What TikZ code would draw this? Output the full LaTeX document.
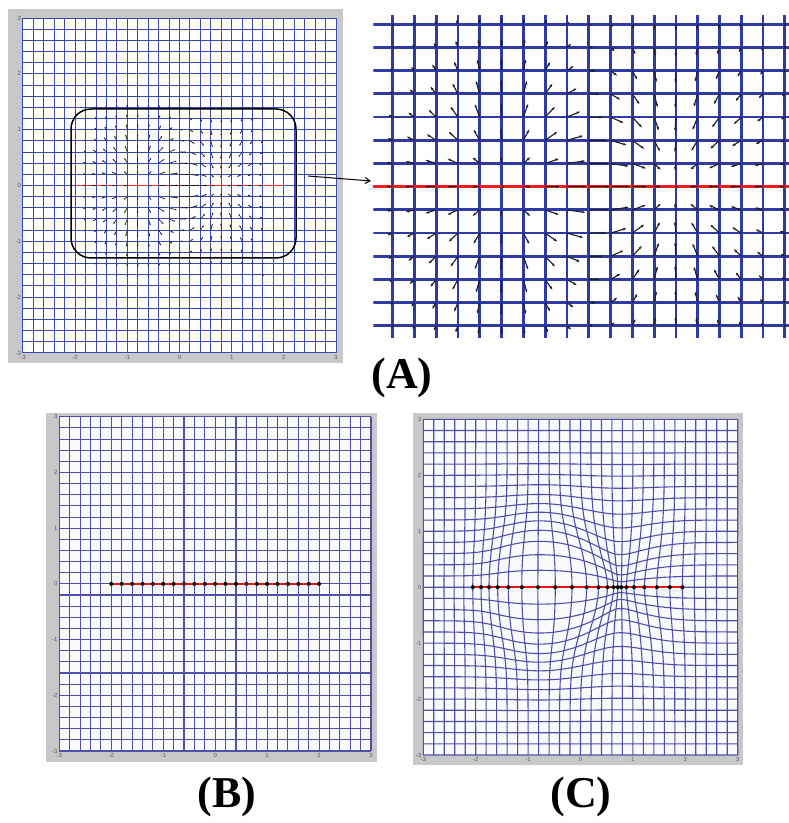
\documentclass[tikz,border=0pt]{standalone}
\usepackage{fontspec}
\setmainfont{Liberation Serif}
\newfontfamily\tickfont{Liberation Sans}
\usetikzlibrary{arrows.meta}
\definecolor{framegray}{RGB}{200,200,200}
\definecolor{plotwhite}{RGB}{250,250,252}
\definecolor{gridLc}{RGB}{62,72,178}
\definecolor{gridRc}{RGB}{48,58,165}
\definecolor{gridBc}{RGB}{80,80,172}
\definecolor{redLc}{RGB}{240,40,40}
\definecolor{redRc}{RGB}{240,30,30}
\definecolor{redBc}{RGB}{235,20,20}
\definecolor{quivc}{RGB}{30,30,30}
\definecolor{tickc}{RGB}{90,90,90}
\tikzset{
  declare function={
    ga(\x,\y)=exp(-((\x+0.74)*(\x+0.74))/0.63-(\y*\y)/0.95);
    gb(\x,\y)=exp(-((\x-0.73)*(\x-0.73))/0.63-(\y*\y)/0.95);
    dX(\x,\y)=0.55*(\x+0.74)*ga(\x,\y)-0.55*(\x-0.73)*gb(\x,\y);
    dY(\x,\y)=0.55*\y*ga(\x,\y)-0.55*\y*gb(\x,\y);
  },
  frame/.style={fill=framegray, draw=none},
  plotbg/.style={fill=plotwhite, draw=none},
  gridL/.style={draw=gridLc, line width=1pt},
  gridR/.style={draw=gridRc, line width=2.8pt},
  gridB/.style={draw=gridBc, line width=1.1pt},
  redL/.style={draw=redLc, line width=1pt},
  redR/.style={draw=redRc, line width=2.6pt},
  redB/.style={draw=redBc, line width=1.6pt},
  dotB/.style={fill=black},
  quivL/.style={draw=quivc, fill=quivc, line width=0.6pt, -{Stealth[length=1.8pt,width=1.5pt]}},
  quivR/.style={draw=quivc, fill=quivc, line width=1.1pt, -{Stealth[length=3.4pt,width=2.6pt]}},
  tick/.style={font=\tickfont\fontsize{6}{6}\selectfont, text=tickc, inner sep=0pt},
  roibox/.style={draw=black, line width=1.5pt, rounded corners=20pt, minimum width=225pt, minimum height=149pt, inner sep=0pt},
  panellabel/.style={font=\fontsize{44}{44}\selectfont\bfseries, inner sep=0pt},
}
\newcommand\myticks{%
  \foreach \v/\s in {3/3,2/2,1/1,0/0,-1/-1,-2/-2,-3/-3}{
    \node[tick, anchor=east] at ([xshift=-1.8pt]-3,\v) {\s};
    \node[tick, anchor=north] at ([yshift=-2.2pt]\v,-3) {\s};
  }%
}
\begin{document}
\begin{tikzpicture}[x=1pt,y=1pt]
\useasboundingbox (0,0) rectangle (789,823);
\fill[white] (0,0) rectangle (789,823);

% ---------------- Panel A left ----------------
\fill[frame] (8,{823-9}) rectangle (343,{823-363});
\begin{scope}[shift={(179.5,{823-185.5})}, x=52.17pt, y=55.83pt]
  \fill[white] (-3,-3) rectangle (3,3);
  \draw[gridL] \foreach \i in {0,...,30}{
    ({-3+0.2*\i},-3) -- ({-3+0.2*\i},3) (-3,{-3+0.2*\i}) -- (3,{-3+0.2*\i}) };
  \draw[redL] (-2,0) -- (2,0);
  \foreach \i in {6,...,23}{
    \foreach \j in {7,...,22}{
      \pgfmathsetmacro\xx{-3+0.2*\i}
      \pgfmathsetmacro\yy{-3+0.2*\j}
      \pgfmathsetmacro\ux{dX(\xx,\yy)}
      \pgfmathsetmacro\uy{dY(\xx,\yy)}
      \pgfmathsetmacro\mgn{sqrt(\ux*\ux+\uy*\uy)}
      \ifdim\mgn pt>0.015pt
        \draw[quivL] (\xx,\yy) -- ++({0.55*\ux},{0.55*\uy});
      \fi
    }
  }
  \myticks
\end{scope}
\node[roibox] (roi) at (183.5,{823-183.5}) {};
\coordinate (arS) at (308,{823-176});
\coordinate (arE) at (371,{823-181});
\draw[line width=1pt, -{Straight Barb[length=5pt,width=6pt]}] (arS) -- (arE);

% ---------------- Panel A right (zoom) ----------------
\begin{scope}[shift={(588.7,{823-186.7})}, x=109pt, y=116pt]
  \clip (-1.976,-1.304) rectangle (1.84,1.472);
  \fill[white] (-2.1,-1.4) rectangle (1.9,1.5);
  \draw[gridR] \foreach \i in {0,...,19}{
    ({-2+0.2*\i},-1.4) -- ({-2+0.2*\i},1.5) };
  \draw[gridR] \foreach \j in {0,...,13}{
    (-2.1,{-1.2+0.2*\j}) -- (1.9,{-1.2+0.2*\j}) };
  \draw[redR] (-2.1,0) -- (1.9,0);
  \foreach \i in {1,...,19}{
    \foreach \j in {0,...,13}{
      \pgfmathsetmacro\xx{-2+0.2*\i}
      \pgfmathsetmacro\yy{-1.2+0.2*\j}
      \pgfmathsetmacro\ux{dX(\xx,\yy)}
      \pgfmathsetmacro\uy{dY(\xx,\yy)}
      \pgfmathsetmacro\mgn{sqrt(\ux*\ux+\uy*\uy)}
      \ifdim\mgn pt>0.006pt
        \draw[quivR] (\xx,\yy) -- ++({0.55*\ux},{0.55*\uy});
      \fi
    }
  }
\end{scope}
\node[panellabel] (labA) at (402,{823-378}) {(A)};

% ---------------- Panel B ----------------
\fill[frame] (46,{823-413}) rectangle (377,{823-762});
\begin{scope}[shift={(215.2,{823-583.9})}, x=51.95pt, y=55.7pt]
  \fill[plotbg] (-3,-3) rectangle (3,3);
  \draw[gridB] \foreach \i in {0,...,30}{
    ({-3+0.2*\i},-3) -- ({-3+0.2*\i},3) (-3,{-3+0.2*\i}) -- (3,{-3+0.2*\i}) };
  \draw[redB] (-2,0) -- (2,0);
  \fill[dotB] \foreach \i in {0,...,20}{
    ({-2+0.2*\i},0) circle (2pt) };
  \myticks
\end{scope}
\node[panellabel] (labB) at (227,{823-797}) {(B)};

% ---------------- Panel C ----------------
\fill[frame] (413,{823-413}) rectangle (743,{823-765});
\begin{scope}[shift={(580.5,{823-587.2})}, x=52.4pt, y=55.95pt]
  \fill[plotbg] (-3,-3) rectangle (3,3);
  \draw[gridB] \foreach \i in {0,...,30}{
    plot[variable=\t, domain=-3:3, samples=91, smooth]
      ({\t+dX(\t,-3+0.2*\i)},{-3+0.2*\i+dY(\t,-3+0.2*\i)})
    plot[variable=\t, domain=-3:3, samples=91, smooth]
      ({-3+0.2*\i+dX(-3+0.2*\i,\t)},{\t+dY(-3+0.2*\i,\t)}) };
  \draw[redB] ({-2+dX(-2,0)},0) -- ({2+dX(2,0)},0);
  \fill[dotB] \foreach \i in {0,...,20}{
    ({-2+0.2*\i+dX(-2+0.2*\i,0)},0) circle (2pt) };
  \myticks
\end{scope}
\node[panellabel] (labC) at (581,{823-797}) {(C)};
\end{tikzpicture}
\end{document}
